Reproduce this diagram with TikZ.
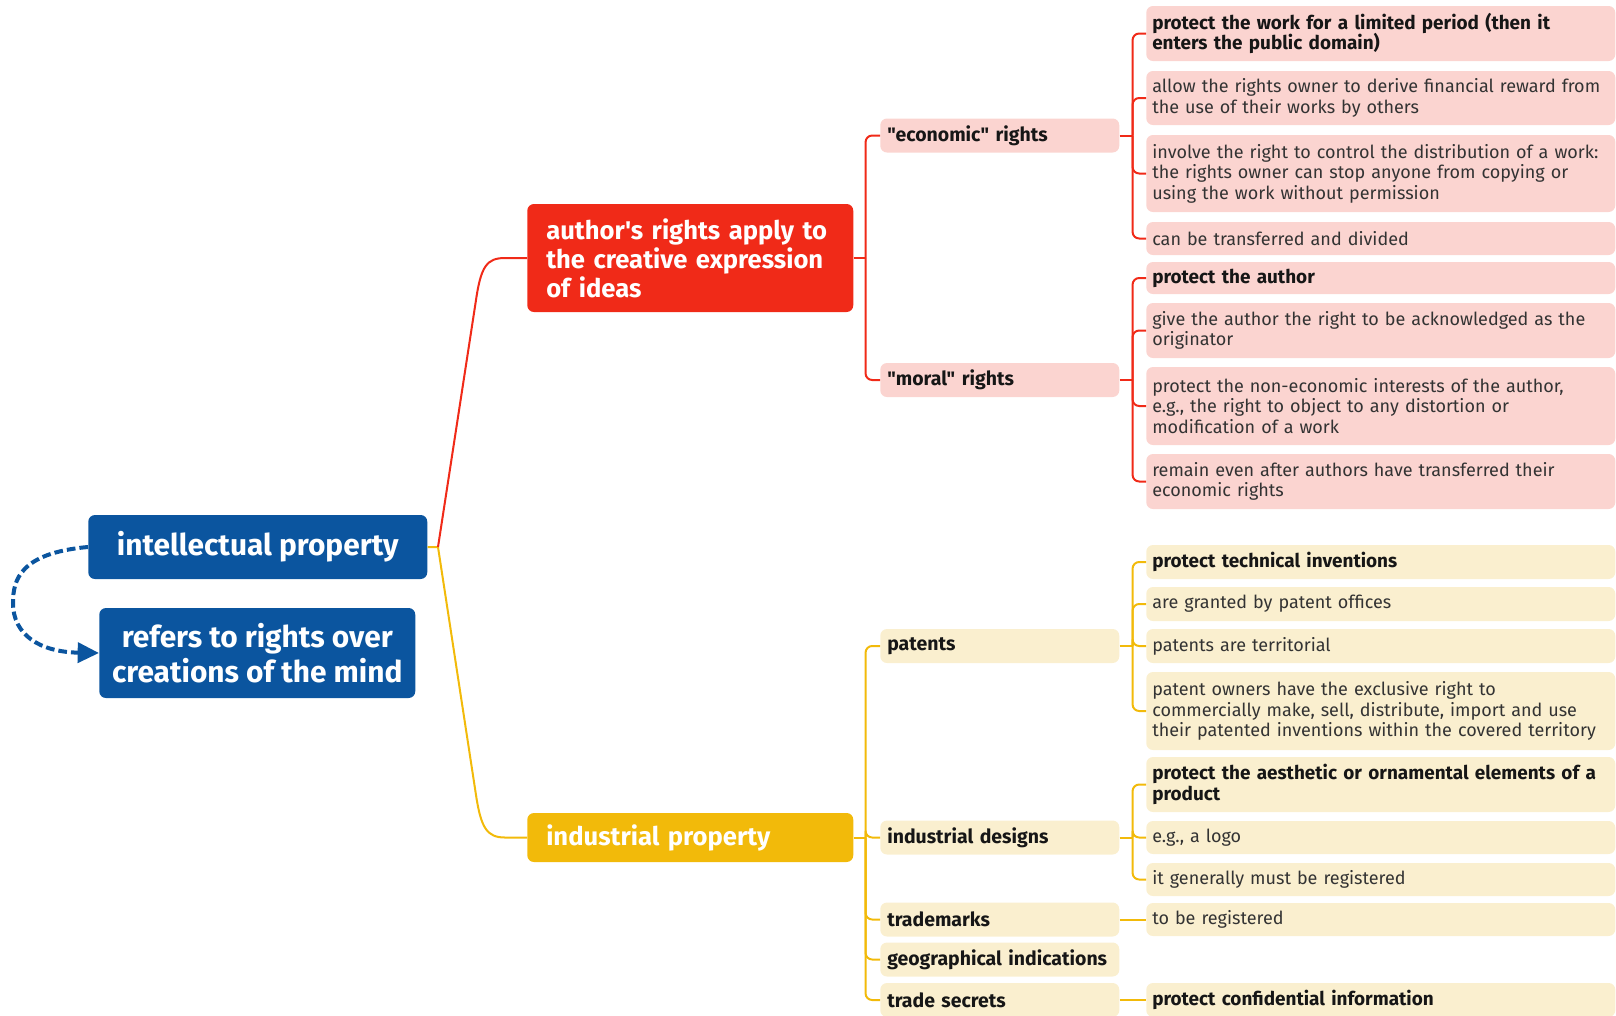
\documentclass[tikz,border=0pt]{standalone}
\usepackage{fontspec}
\setmainfont{Fira Sans}[Ligatures=TeXOff]
\usetikzlibrary{calc,arrows.meta}
\definecolor{ipblue}{HTML}{0B559F}
\definecolor{ipred}{HTML}{F02A18}
\definecolor{ipyellow}{HTML}{F2BA0A}
\definecolor{ippink}{HTML}{FBD4D0}
\definecolor{ipcream}{HTML}{FAEFCF}
\definecolor{iptext}{HTML}{333333}
\definecolor{ipdark}{HTML}{161616}
\newdimen\pxu \pxu=0.75pt
\newcommand\branch[4]{%
  \draw[#1] (#2.east) -- ++(#3,0) coordinate (#2-bus);
  \foreach \c in {#4} {\draw[#1, rounded corners=5pt] (#2-bus) |- (\c.west);}
}
\begin{document}
\begin{tikzpicture}[x=0.75pt,y=-0.75pt,
  base/.style={rectangle, rounded corners=5pt, inner ysep=0pt, anchor=west, align=left},
  topbox/.style={base, fill=ipblue, text=white, align=center, inner xsep=0pt,
    font=\bfseries\fontsize{22.4}{26}\selectfont},
  mainbox/.style={base, text=white, inner xsep=19\pxu, text width=288\pxu,
    minimum width=326\pxu, font=\bfseries\fontsize{19.2}{21.75}\selectfont},
  midbox/.style={base, inner xsep=7\pxu, text width=225\pxu, minimum width=239\pxu,
    minimum height=34\pxu, text=ipdark, font=\bfseries\fontsize{14.6}{16}\selectfont},
  leafbox/.style={base, inner xsep=6\pxu, text width=457\pxu, minimum width=469\pxu,
    text=iptext, font=\fontsize{13.5}{15.4}\selectfont},
  leafbold/.style={leafbox, text=ipdark, font=\bfseries\fontsize{14.2}{15.4}\selectfont},
  conR/.style={draw=ipred, line width=1.5pt},
  conY/.style={draw=ipyellow, line width=1.5pt},
  redleaf/.style={fill=ippink},
  yelleaf/.style={fill=ipcream}
]
\useasboundingbox (0,0) rectangle (1616,1015);
\clip (0,0) rectangle (1616,1015);

% level 0
\node[topbox, minimum width=339\pxu, minimum height=64\pxu] (ip) at (88,547) {intellectual property};
\node[topbox, minimum width=316\pxu, minimum height=90\pxu] (refers) at (99,653) {refers to rights over\\creations of the mind};

% level 1
\node[mainbox, fill=ipred, minimum height=108\pxu] (author) at (527,258) {author's rights apply to\\the creative expression\\of ideas};
\node[mainbox, fill=ipyellow, minimum height=49\pxu] (industrial) at (527,837.5) {industrial property};

% level 2
\node[midbox, fill=ippink] (econ) at (880,135.5) {"economic" rights};
\node[midbox, fill=ippink] (moral) at (880,380) {"moral" rights};
\node[midbox, fill=ipcream] (patents) at (880,646) {patents};
\node[midbox, fill=ipcream] (designs) at (880,837.5) {industrial designs};
\node[midbox, fill=ipcream] (trademarks) at (880,919.5) {trademarks};
\node[midbox, fill=ipcream] (geo) at (880,959.5) {geographical indications};
\node[midbox, fill=ipcream] (secrets) at (880,1000) {trade secrets};

% leaves
\node[leafbold, redleaf, minimum height=55\pxu] (e1) at (1146,33.5) {protect the work for a limited period (then it\\enters the public domain)};
\node[leafbox, redleaf, minimum height=54\pxu] (e2) at (1146,98) {allow the rights owner to derive financial reward from\\the use of their works by others};
\node[leafbox, redleaf, minimum height=77\pxu] (e3) at (1146,173.5) {involve the right to control the distribution of a work:\\the rights owner can stop anyone from copying or\\using the work without permission};
\node[leafbox, redleaf, minimum height=33\pxu] (e4) at (1146,238.5) {can be transferred and divided};

\node[leafbold, redleaf, minimum height=32\pxu] (m1) at (1146,278) {protect the author};
\node[leafbox, redleaf, minimum height=55\pxu] (m2) at (1146,330.5) {give the author the right to be acknowledged as the\\originator};
\node[leafbox, redleaf, minimum height=78\pxu] (m3) at (1146,406) {protect the non-economic interests of the author,\\e.g., the right to object to any distortion or\\modification of a work};
\node[leafbox, redleaf, minimum height=55\pxu] (m4) at (1146,481.5) {remain even after authors have transferred their\\economic rights};

\node[leafbold, yelleaf, minimum height=34\pxu] (p1) at (1146,562) {protect technical inventions};
\node[leafbox, yelleaf, minimum height=34\pxu] (p2) at (1146,604) {are granted by patent offices};
\node[leafbox, yelleaf, minimum height=34\pxu] (p3) at (1146,646) {patents are territorial};
\node[leafbox, yelleaf, minimum height=78\pxu] (p4) at (1146,711) {patent owners have the exclusive right to\\commercially make, sell, distribute, import and use\\their patented inventions within the covered territory};

\node[leafbold, yelleaf, minimum height=55\pxu] (d1) at (1146,784.5) {protect the aesthetic or ornamental elements of a\\product};
\node[leafbox, yelleaf, minimum height=33\pxu] (d2) at (1146,837.5) {e.g., a logo};
\node[leafbox, yelleaf, minimum height=33\pxu] (d3) at (1146,879.5) {it generally must be registered};

\node[leafbox, yelleaf, minimum height=33\pxu] (t1) at (1146,919.5) {to be registered};
\node[leafbold, yelleaf, minimum height=34\pxu] (s1) at (1146,1000) {protect confidential information};

% connectors from root
\draw[conY] (ip.east) -- (438,547) coordinate (ipbus) -- (476,795)
  .. controls (481,828) and (487,837.5) .. (505,837.5) -- (industrial.west);
\draw[conR] (ipbus) -- (476,300)
  .. controls (481,266) and (487,258) .. (505,258) -- (author.west);

% level 1 -> level 2
\branch{conR}{author}{12}{econ,moral}
\branch{conY}{industrial}{12}{patents,designs,trademarks,geo,secrets}

% level 2 -> leaves
\branch{conR}{econ}{13}{e1,e2,e3,e4}
\branch{conR}{moral}{13}{m1,m2,m3,m4}
\branch{conY}{patents}{13}{p1,p2,p3,p4}
\branch{conY}{designs}{13}{d1,d2,d3}
\draw[conY] (trademarks.east) -- (t1.west);
\draw[conY] (secrets.east) -- (s1.west);

% dashed self relation
\draw[ipblue, line width=3pt, dash pattern=on 6.5pt off 3pt,
  -{Triangle[length=16pt,width=15pt]}]
  (ip.west) .. controls (20,553) and (13,580) .. (13,603)
  .. controls (13,635) and (40,652) .. (refers.west);
\end{tikzpicture}
\end{document}
